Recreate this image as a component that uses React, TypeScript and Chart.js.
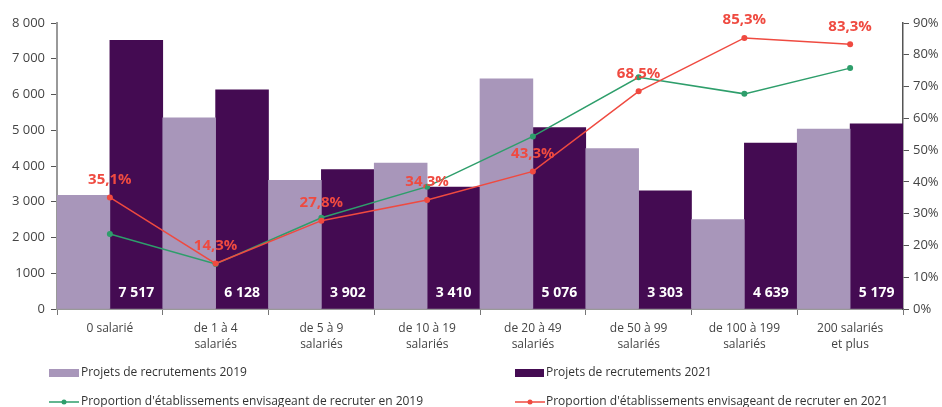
import { useEffect, useRef } from "react";
import { Chart, registerables } from "chart.js";

Chart.register(...registerables);

const categories: string[][] = [
  ["0 salarié"],
  ["de 1 à 4", "salariés"],
  ["de 5 à 9", "salariés"],
  ["de 10 à 19", "salariés"],
  ["de 20 à 49", "salariés"],
  ["de 50 à 99", "salariés"],
  ["de 100 à 199", "salariés"],
  ["200 salariés", "et plus"],
];
const projets2019 = [3180, 5350, 3600, 4080, 6440, 4490, 2500, 5030];
const projets2021 = [7517, 6128, 3902, 3410, 5076, 3303, 4639, 5179];
const proportion2019 = [23.6, 14.2, 28.7, 38.5, 54.3, 72.9, 67.7, 75.8];
const proportion2021 = [35.1, 14.3, 27.8, 34.3, 43.3, 68.5, 85.3, 83.3];
const countTickLabels = ["0", "1000", "2 000", "3 000", "4 000", "5 000", "6 000", "7 000", "8 000"];
const seriesNames = [
  "Projets de recrutements 2019",
  "Projets de recrutements 2021",
  "Proportion d'établissements envisageant de recruter en 2019",
  "Proportion d'établissements envisageant de recruter en 2021",
];

const LIGHT = "#A896BA";
const DARK = "#440B52";
const GREEN = "#2E9E6B";
const RED = "#EF4A40";
const TEXT = "#444444";
const FONT = '"Open Sans", sans-serif';

const fmtNum = (v: number) => {
  const th = Math.floor(v / 1000);
  const rest = String(v % 1000).padStart(3, "0");
  return th > 0 ? `${th} ${rest}` : String(v);
};
const fmtPct = (v: number) => v.toFixed(1).replace(".", ",") + "%";

const customPlugin = {
  id: "customLabels",
  afterDatasetsDraw(chart: any) {
    const ctx = chart.ctx;
    ctx.save();
    ctx.textAlign = "center";
    ctx.textBaseline = "middle";
    const barMeta = chart.getDatasetMeta(1);
    ctx.font = `bold 14px ${FONT}`;
    ctx.fillStyle = "#ffffff";
    barMeta.data.forEach((el: any, i: number) => {
      ctx.fillText(fmtNum(projets2021[i]), el.x, chart.chartArea.bottom - 16);
    });
    const lineMeta = chart.getDatasetMeta(3);
    ctx.font = `bold 15px ${FONT}`;
    ctx.fillStyle = RED;
    lineMeta.data.forEach((el: any, i: number) => {
      ctx.fillText(fmtPct(proportion2021[i]), el.x, el.y - 18);
    });
    ctx.restore();
  },
  afterDraw(chart: any) {
    const ctx = chart.ctx;
    ctx.save();
    ctx.font = `12px ${FONT}`;
    ctx.textAlign = "left";
    ctx.textBaseline = "middle";
    const cols = [49, 515];
    const row1 = 373;
    const row2 = 402;
    ctx.fillStyle = LIGHT;
    ctx.fillRect(cols[0], row1 - 4, 30, 8);
    ctx.fillStyle = DARK;
    ctx.fillRect(cols[1], row1 - 4, 29, 8);
    ctx.fillStyle = "#333333";
    ctx.fillText(seriesNames[0], cols[0] + 32, row1);
    ctx.fillText(seriesNames[1], cols[1] + 31, row1);
    const drawLineMark = (x: number, color: string) => {
      ctx.strokeStyle = color;
      ctx.lineWidth = 1.5;
      ctx.beginPath();
      ctx.moveTo(x, row2);
      ctx.lineTo(x + 30, row2);
      ctx.stroke();
      ctx.fillStyle = color;
      ctx.beginPath();
      ctx.arc(x + 15, row2, 2.5, 0, Math.PI * 2);
      ctx.fill();
    };
    drawLineMark(cols[0], GREEN);
    drawLineMark(cols[1], RED);
    ctx.fillStyle = "#333333";
    ctx.fillText(seriesNames[2], cols[0] + 32, row2);
    ctx.fillText(seriesNames[3], cols[1] + 31, row2);
    ctx.restore();
  },
};

export default function App() {
  const canvasRef = useRef<HTMLCanvasElement | null>(null);

  useEffect(() => {
    document.body.style.margin = "0";
    const canvas = canvasRef.current;
    if (!canvas) return;
    const chart = new Chart(canvas, {
      type: "bar",
      data: {
        labels: categories,
        datasets: [
          {
            type: "bar",
            label: seriesNames[0],
            data: projets2019,
            backgroundColor: LIGHT,
            barPercentage: 1,
            categoryPercentage: 1,
            yAxisID: "y",
            order: 2,
          },
          {
            type: "bar",
            label: seriesNames[1],
            data: projets2021,
            backgroundColor: DARK,
            barPercentage: 1,
            categoryPercentage: 1,
            yAxisID: "y",
            order: 2,
          },
          {
            type: "line",
            label: seriesNames[2],
            data: proportion2019,
            borderColor: GREEN,
            backgroundColor: GREEN,
            borderWidth: 1.5,
            pointRadius: 3,
            pointBorderWidth: 0,
            tension: 0,
            yAxisID: "y1",
            order: 1,
          },
          {
            type: "line",
            label: seriesNames[3],
            data: proportion2021,
            borderColor: RED,
            backgroundColor: RED,
            borderWidth: 1.5,
            pointRadius: 3,
            pointBorderWidth: 0,
            tension: 0,
            yAxisID: "y1",
            order: 0,
          },
        ] as any,
      },
      options: {
        responsive: false,
        animation: false,
        devicePixelRatio: 1,
        layout: { padding: { top: 23, left: 0, right: 0, bottom: 0 } },
        plugins: {
          legend: { display: false },
          tooltip: { enabled: false },
        },
        scales: {
          x: {
            grid: {
              display: true,
              drawOnChartArea: false,
              drawTicks: true,
              tickLength: 6,
              color: "#777777",
              offset: true,
            },
            border: { display: true, color: "#999999", width: 2 },
            ticks: {
              color: TEXT,
              font: { family: FONT, size: 12, lineHeight: 1.33 },
              padding: 6,
              maxRotation: 0,
              autoSkip: false,
            },
            afterFit: (scale: any) => {
              scale.height = 98;
            },
          },
          y: {
            position: "left",
            min: 0,
            max: 8000,
            grid: {
              display: true,
              drawOnChartArea: false,
              drawTicks: true,
              tickLength: 6,
              color: "#555555",
            },
            border: { display: true, color: "#999999", width: 2 },
            ticks: {
              stepSize: 1000,
              color: TEXT,
              font: { family: FONT, size: 13 },
              padding: 6,
              callback: (_v: any, i: number) => countTickLabels[i],
            },
            afterFit: (scale: any) => {
              scale.width = 57;
            },
          },
          y1: {
            position: "right",
            min: 0,
            max: 90,
            grid: {
              display: true,
              drawOnChartArea: false,
              drawTicks: true,
              tickLength: 6,
              color: "#555555",
            },
            border: { display: true, color: "#555555", width: 1.5 },
            ticks: {
              stepSize: 10,
              color: TEXT,
              font: { family: FONT, size: 13 },
              padding: 4,
              callback: (v: any) => `${v}%`,
            },
            afterFit: (scale: any) => {
              scale.width = 39;
            },
          },
        },
      } as any,
      plugins: [customPlugin],
    });
    return () => chart.destroy();
  }, []);

  return (
    <div style={{ width: 942, height: 407, position: "relative", background: "#ffffff" }}>
      <canvas ref={canvasRef} width={942} height={407} style={{ width: 942, height: 407, display: "block" }} />
    </div>
  );
}
